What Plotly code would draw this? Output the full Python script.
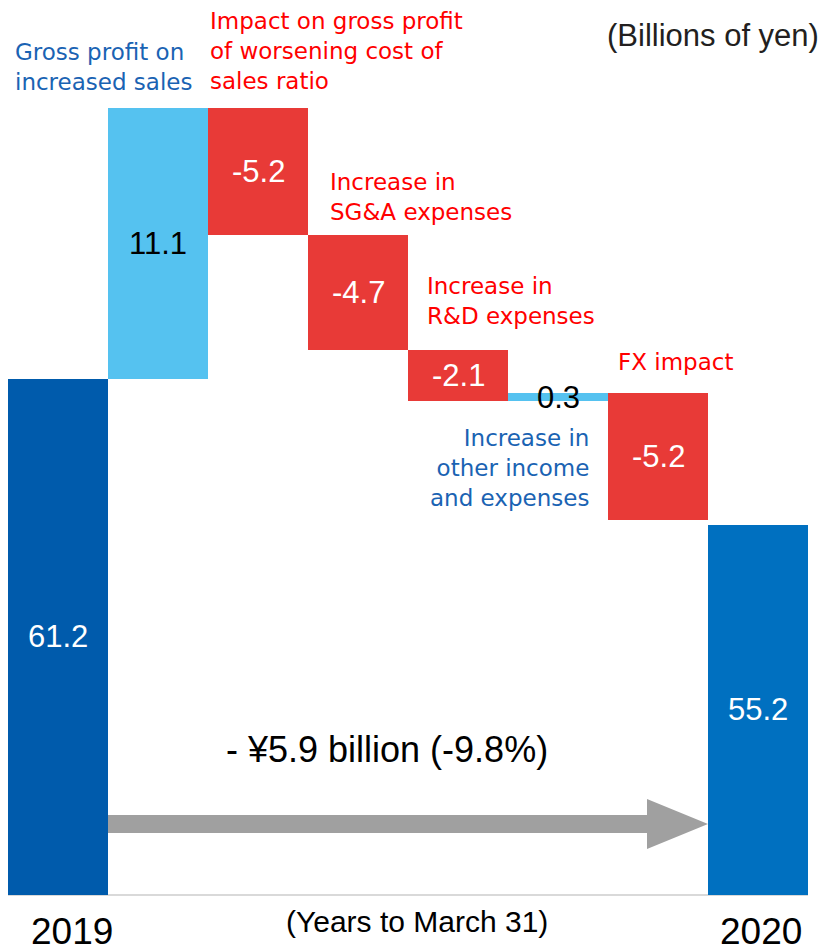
import plotly.graph_objects as go

# Operating-profit bridge, FY2019 -> FY2020 (billions of yen)
categories = [
    "2019",
    "Gross profit on increased sales",
    "Impact on gross profit of worsening cost of sales ratio",
    "Increase in SG&A expenses",
    "Increase in R&D expenses",
    "Increase in other income and expenses",
    "FX impact",
    "2020",
]
measures = ["total", "relative", "relative", "relative", "relative", "relative", "relative", "total"]
values = [61.2, 11.1, -5.2, -4.7, -2.1, 0.3, -5.2, 55.2]
value_labels = ["61.2", "11.1", "-5.2", "-4.7", "-2.1", "0.3", "-5.2", "55.2"]
change_text = "- ¥5.9 billion (-9.8%)"

# styling
DARK_BLUE_2019 = "#005BAC"
BLUE_2020 = "#0070C0"
LIGHT_BLUE = "#55C2F0"
RED_BAR = "#E83A37"
RED_TEXT = "#FF0000"
BLUE_TEXT = "#1A63B3"
INK = "#231F20"
ARIAL = "Liberation Sans, Arial, sans-serif"
LABEL_FONT = "DejaVu Sans, Verdana, sans-serif"

W, H = 825, 950
PLOT_H = 895          # plot area height; the rest is the bottom margin
Y_MIN = 40.0          # value axis starts here (broken axis)
PX_PER_UNIT = 24.35
X_RANGE = [-0.58, 7.67]
Y_RANGE = [Y_MIN, Y_MIN + PLOT_H / PX_PER_UNIT]


def px_x(px):
    return X_RANGE[0] + px / W * (X_RANGE[1] - X_RANGE[0])


def px_y(py):
    return Y_RANGE[1] - py / PLOT_H * (Y_RANGE[1] - Y_RANGE[0])


def paper_x(px):
    return px / W


def paper_y(py):
    return (PLOT_H - py) / PLOT_H


# bar bases from the running total
bases, heights, colors, text_colors = [], [], [], []
running = 0.0
for i, (m, v) in enumerate(zip(measures, values)):
    if m == "total":
        bases.append(0.0)
        heights.append(v)
        running = v
        colors.append(DARK_BLUE_2019 if i == 0 else BLUE_2020)
        text_colors.append("white")
    else:
        if v >= 0:
            bases.append(running)
            heights.append(v)
            colors.append(LIGHT_BLUE)
            text_colors.append("black")
        else:
            bases.append(running + v)
            heights.append(-v)
            colors.append(RED_BAR)
            text_colors.append("white")
        running += v

xs = list(range(len(categories)))

fig = go.Figure()
fig.add_trace(go.Bar(
    x=xs, y=heights, base=bases, width=1.0,
    marker=dict(color=colors, line=dict(width=0)),
    hovertext=categories, hoverinfo="text",
    showlegend=False,
))

annotations = []
# value labels centred in the visible part of each bar
for x, b, h, lab, tc in zip(xs, bases, heights, value_labels, text_colors):
    lo = max(b, Y_MIN)
    mid = (lo + b + h) / 2
    annotations.append(dict(
        x=x, y=mid, xref="x", yref="y", text=lab, showarrow=False,
        font=dict(family=ARIAL, size=31, color=tc),
        xanchor="center", yanchor="middle",
    ))

# category captions
captions = [
    ("Gross profit on<br>increased sales", 13, 67, "left", BLUE_TEXT),
    ("Impact on gross profit<br>of worsening cost of<br>sales ratio", 208, 51, "left", RED_TEXT),
    ("Increase in<br>SG&A expenses", 328, 197, "left", RED_TEXT),
    ("Increase in<br>R&D expenses", 425, 301, "left", RED_TEXT),
    ("FX impact", 616, 362, "left", RED_TEXT),
    ("Increase in<br>other income<br>and expenses", 591, 468, "right", BLUE_TEXT),
]
for text, px, py, anchor, col in captions:
    annotations.append(dict(
        x=paper_x(px), y=paper_y(py), xref="paper", yref="paper", text=text,
        showarrow=False, font=dict(family=LABEL_FONT, size=23, color=col),
        xanchor=anchor, yanchor="middle", align=anchor,
    ))

annotations += [
    dict(x=paper_x(821), y=paper_y(35), xref="paper", yref="paper",
         text="(Billions of yen)", showarrow=False, xanchor="right", yanchor="middle",
         font=dict(family=ARIAL, size=31, color=INK)),
    dict(x=paper_x(387), y=paper_y(749), xref="paper", yref="paper",
         text=change_text, showarrow=False, xanchor="center", yanchor="middle",
         font=dict(family=ARIAL, size=36, color="black")),
    dict(x=paper_x(417), y=paper_y(921), xref="paper", yref="paper",
         text="(Years to March 31)", showarrow=False, xanchor="center", yanchor="middle",
         font=dict(family=ARIAL, size=30, color="black")),
    dict(x=paper_x(72), y=paper_y(931), xref="paper", yref="paper",
         text=categories[0], showarrow=False, xanchor="center", yanchor="middle",
         font=dict(family=ARIAL, size=37, color="black")),
    dict(x=paper_x(761), y=paper_y(931), xref="paper", yref="paper",
         text=categories[-1], showarrow=False, xanchor="center", yanchor="middle",
         font=dict(family=ARIAL, size=37, color="black")),
]

# grey arrow running from the 2019 bar to the 2020 bar
x0, x1 = xs[0] + 0.5, xs[-1] - 0.5
xh = px_x(647)
s0, s1 = px_y(815), px_y(833)
h0, h1 = px_y(799), px_y(849)
ym = px_y(824)
arrow_path = (f"M {x0},{s0} L {xh},{s0} L {xh},{h0} L {x1},{ym} "
              f"L {xh},{h1} L {xh},{s1} L {x0},{s1} Z")

shapes = [
    dict(type="line", xref="x", yref="paper", x0=-0.5, x1=7.5, y0=0, y1=0,
         line=dict(color="#D9D9D9", width=2), layer="below"),
    dict(type="path", xref="x", yref="y", path=arrow_path,
         fillcolor="#A0A0A0", line=dict(width=0)),
]

fig.update_layout(
    width=W, height=H,
    margin=dict(l=0, r=0, t=0, b=H - PLOT_H, pad=0),
    paper_bgcolor="white", plot_bgcolor="white",
    bargap=0,
    xaxis=dict(range=X_RANGE, visible=False, fixedrange=True),
    yaxis=dict(range=Y_RANGE, visible=False, fixedrange=True),
    annotations=annotations,
    shapes=shapes,
)

fig.write_html("out.html")
